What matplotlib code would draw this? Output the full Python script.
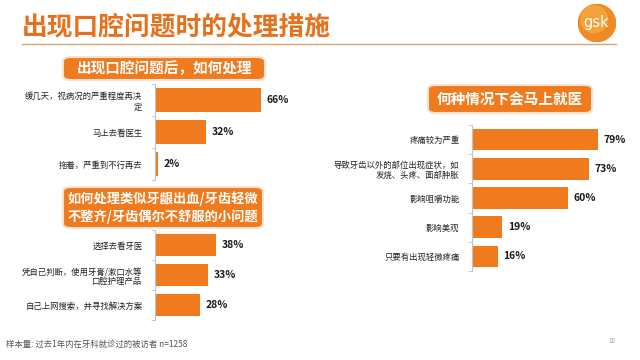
import numpy as np
import matplotlib
matplotlib.use("Agg")
import matplotlib.pyplot as plt
from matplotlib.patches import FancyBboxPatch, Circle
from matplotlib.lines import Line2D

plt.rcParams['font.family'] = ['Noto Sans CJK SC', 'DejaVu Sans']

# data
title = "出现口腔问题时的处理措施"

q1_title = "出现口腔问题后，如何处理"
q1_labels = ["缓几天，视病况的严重程度再决\n定", "马上去看医生", "拖着，严重到不行再去"]
q1_values = [66, 32, 2]

q2_title = "如何处理类似牙龈出血/牙齿轻微\n不整齐/牙齿偶尔不舒服的小问题"
q2_labels = ["选择去看牙医", "凭自己判断，使用牙膏/漱口水等\n口腔护理产品", "自己上网搜索，并寻找解决方案"]
q2_values = [38, 33, 28]

q3_title = "何种情况下会马上就医"
q3_labels = ["疼痛较为严重", "导致牙齿以外的部位出现症状，如\n发烧、头疼、面部肿胀", "影响咀嚼功能", "影响美观", "只要有出现轻微疼痛"]
q3_values = [79, 73, 60, 19, 16]

footnote = "样本量: 过去1年内在牙科就诊过的被访者 n=1258"
page_no = "10"

ORANGE = '#F07A1E'
TITLE_OR = '#E8701A'
W, H = 640, 360

fig = plt.figure(figsize=(6.4, 3.6), dpi=100)
fig.patch.set_facecolor('white')


def px_axes(x0, y0, x1, y1):
    # pixel box (top-left origin) -> figure axes
    return fig.add_axes([x0 / W, 1 - y1 / H, (x1 - x0) / W, (y1 - y0) / H])


def header(x0, y0, x1, y1, text, fs):
    box = FancyBboxPatch((x0 / W, 1 - y1 / H), (x1 - x0) / W, (y1 - y0) / H,
                         boxstyle="round,pad=0,rounding_size=0.012",
                         transform=fig.transFigure, facecolor=ORANGE,
                         edgecolor='#F6E3D3', linewidth=1.5, zorder=2)
    fig.patches.append(box)
    fig.text((x0 + x1) / 2 / W, 1 - (y0 + y1) / 2 / H, text, color='white',
             fontsize=fs, fontweight='bold', ha='center', va='center',
             linespacing=1.25, zorder=3)


def bar_panel(ax, labels, values, n_slots):
    y = np.arange(len(labels))
    ax.barh(y, values, height=0.74, color=ORANGE)
    ax.set_xlim(0, 100)
    ax.set_ylim(n_slots - 0.5, -0.5)
    ax.set_yticks(y)
    ax.set_yticklabels(labels, fontsize=6, color='#222222', ha='right',
                       multialignment='right')
    ax.tick_params(axis='y', which='major', length=0, pad=9)
    ax.set_yticks(np.arange(len(labels) + 1) - 0.5, minor=True)
    ax.tick_params(axis='y', which='minor', length=3, color='#B8C4D0', direction='out')
    ax.set_xticks([])
    for s in ['top', 'right', 'bottom']:
        ax.spines[s].set_visible(False)
    ax.spines['left'].set_color('#B8C4D0')
    ax.spines['left'].set_linewidth(0.8)
    ax.patch.set_alpha(0)
    for yi, v in zip(y, values):
        ax.text(v + 3.5, yi, f"{v}%", va='center', ha='left', fontsize=7.5,
                fontweight='bold', color='#1a1a1a')


# title and rule
fig.text(22 / W, 1 - 27 / H, title, fontsize=18.5, fontweight='bold',
         color=TITLE_OR, ha='left', va='center')
fig.add_artist(Line2D([22 / W, 616 / W], [1 - 44 / H, 1 - 44 / H],
                      color='#D6A77A', linewidth=1.0, transform=fig.transFigure))

# gsk logo
lax = px_axes(578, 4, 616, 42)
lax.set_xlim(-1, 1)
lax.set_ylim(-1, 1)
lax.set_aspect('equal')
lax.axis('off')
lax.add_patch(Circle((0, 0), 0.98, color='#F08A24'))
lax.add_patch(Circle((-0.15, 0.2), 0.7, color='#F7B24A', alpha=0.6))
lax.text(-0.05, 0.05, "gsk", color='white', fontsize=10.5, ha='center', va='center',
         family='DejaVu Sans')

# panel 1
header(63, 57, 265, 80, q1_title, 10.5)
ax1 = px_axes(155, 84, 315, 180)
bar_panel(ax1, q1_labels, q1_values, 3)

# panel 2
header(63, 187, 263, 228, q2_title, 9.5)
ax2 = px_axes(155, 230, 315, 320)
bar_panel(ax2, q2_labels, q2_values, 3)

# panel 3
header(428, 85, 592, 113, q3_title, 10.5)
ax3 = px_axes(472, 125, 632, 271)
bar_panel(ax3, q3_labels, q3_values, 5)

# footer
fig.text(6 / W, 1 - 344 / H, footnote, fontsize=6, color='#555555',
         ha='left', va='center')
fig.text(612 / W, 1 - 341 / H, page_no, fontsize=4.5, color='#999999',
         ha='center', va='center')

fig.savefig("out.png", dpi=100)
